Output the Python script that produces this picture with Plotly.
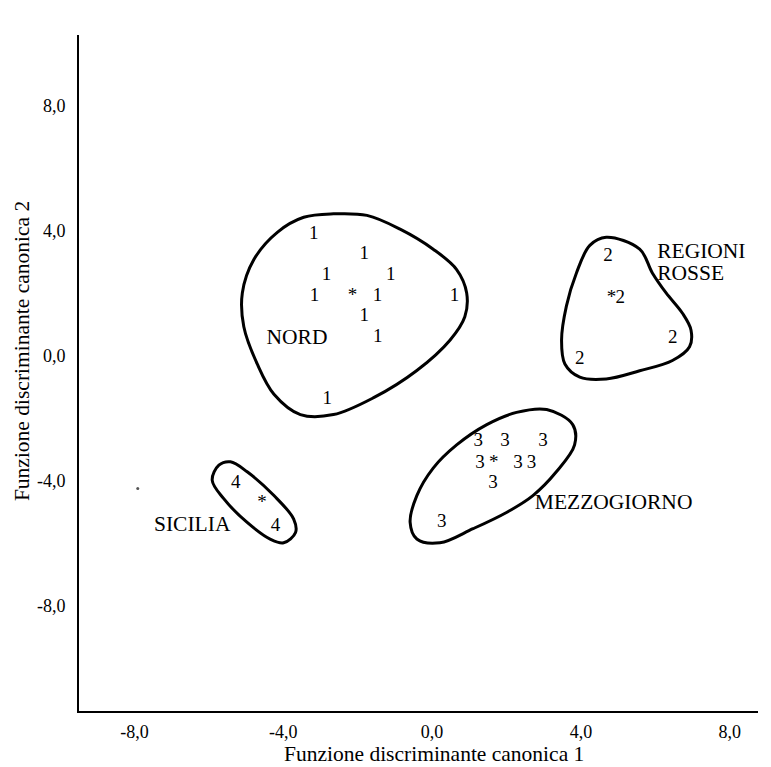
import plotly.graph_objects as go

# ---- data (canonical discriminant scores) ----
g1_x = [-3.18, -1.82, -2.84, -1.11, -3.16, -1.47, 0.60, -1.82, -1.46, -2.82]
g1_y = [3.89, 3.25, 2.57, 2.57, 1.90, 1.90, 1.90, 1.25, 0.58, -1.39]
g2_x = [4.73, 5.06, 6.47, 3.97]
g2_y = [3.19, 1.84, 0.55, -0.10]
g3_x = [1.24, 1.96, 2.98, 1.29, 2.31, 2.67, 1.64, 0.26]
g3_y = [-2.74, -2.74, -2.74, -3.44, -3.44, -3.44, -4.09, -5.33]
g4_x = [-5.28, -4.21]
g4_y = [-4.09, -5.44]

centroid_x = [-2.14, 4.82, 1.66, -4.57]
centroid_y = [1.92, 1.84, -3.44, -4.72]

# group outlines
nord_x = [-2.65, -1.75, -0.86, 0.03, 0.66, 0.93, 0.88, 0.48, -0.41, -1.57, -2.65, -3.54,
          -4.25, -4.70, -5.06, -5.10, -4.79, -4.16, -3.45]
nord_y = [4.54, 4.49, 4.05, 3.41, 2.76, 2.01, 1.25, 0.50, -0.47, -1.34, -1.88, -1.88,
          -1.23, -0.26, 0.93, 2.01, 3.08, 3.95, 4.43]
rosse_x = [4.68, 5.58, 5.92, 6.29, 6.73, 6.96, 6.92, 6.46, 5.58, 4.68, 3.97, 3.57, 3.48,
           3.61, 3.88, 4.24]
rosse_y = [3.79, 3.41, 2.65, 2.01, 1.36, 0.82, 0.29, -0.15, -0.48, -0.74, -0.68, -0.26,
           0.50, 1.59, 2.65, 3.53]
mezzo_x = [3.08, 3.78, 3.83, 3.34, 2.71, 2.00, 1.10, 0.21, -0.41, -0.59, -0.41, 0.03,
           0.66, 1.47, 2.27]
mezzo_y = [-1.72, -2.20, -2.85, -3.71, -4.47, -5.01, -5.53, -5.98, -5.86, -5.33, -4.47,
           -3.59, -2.85, -2.20, -1.81]
sic_x = [-5.73, -5.42, -4.97, -4.25, -3.72, -3.67, -3.99, -4.34, -4.97, -5.60, -5.91]
sic_y = [-3.50, -3.39, -3.71, -4.47, -5.22, -5.65, -5.98, -5.87, -5.33, -4.57, -3.98]

labels = ["NORD", "REGIONI", "ROSSE", "MEZZOGIORNO", "SICILIA"]
label_x = [-3.63, 6.05, 6.05, 2.76, -5.42]
label_y = [0.55, 3.31, 2.59, -4.72, -5.44]
label_pos = ["middle center", "middle right", "middle right", "middle right", "middle left"]

tick_vals = [-8, -4, 0, 4, 8]
tick_text = ["-8,0", "-4,0", "0,0", "4,0", "8,0"]

x_title = "Funzione discriminante canonica 1"
y_title = "Funzione discriminante canonica 2"

speck_x = [-7.91]
speck_y = [-4.24]

FONT = "Liberation Serif"

fig = go.Figure()

for ox, oy in [(nord_x, nord_y), (rosse_x, rosse_y), (mezzo_x, mezzo_y), (sic_x, sic_y)]:
    fig.add_trace(go.Scatter(
        x=ox + ox[:1], y=oy + oy[:1], mode="lines",
        line=dict(color="black", width=3, shape="spline", smoothing=1.0),
        hoverinfo="skip", showlegend=False))

for gx, gy, lab in [(g1_x, g1_y, "1"), (g2_x, g2_y, "2"), (g3_x, g3_y, "3"), (g4_x, g4_y, "4")]:
    fig.add_trace(go.Scatter(
        x=gx, y=gy, mode="text", text=[lab] * len(gx),
        textfont=dict(family=FONT, size=19, color="black"),
        showlegend=False))

fig.add_trace(go.Scatter(
    x=centroid_x, y=centroid_y, mode="text", text=["*"] * len(centroid_x),
    textfont=dict(family=FONT, size=19, color="black"), showlegend=False))

fig.add_trace(go.Scatter(
    x=label_x, y=label_y, mode="text", text=labels, textposition=label_pos,
    textfont=dict(family=FONT, size=21.5, color="black"), showlegend=False))

fig.add_trace(go.Scatter(
    x=speck_x, y=speck_y, mode="markers",
    marker=dict(color="#555555", size=3), hoverinfo="skip", showlegend=False))

axis_common = dict(
    showgrid=False, zeroline=False, showline=True, linecolor="black", linewidth=2,
    ticks="outside", tickcolor="rgba(0,0,0,0)",
    tickvals=tick_vals, ticktext=tick_text,
    tickfont=dict(family=FONT, size=18, color="black"),
    automargin=False,
)

# the page adds an 8 px body margin, so the figure is sized to sit inside the window
fig.update_layout(
    width=763, height=759,
    margin=dict(l=71, r=13, t=27, b=56),
    paper_bgcolor="white", plot_bgcolor="white",
    xaxis=dict(range=[-9.49, 8.76], ticklen=3, **axis_common),
    yaxis=dict(range=[-11.36, 10.26], ticklen=8, **axis_common),
    showlegend=False,
    annotations=[
        dict(text=x_title, xref="x", x=0.05, yref="paper", y=0, yanchor="middle",
             yshift=-43, showarrow=False, font=dict(family=FONT, size=21.5, color="black")),
        dict(text=y_title, xref="paper", x=0, xanchor="center", xshift=-57,
             yref="y", y=0.15, yanchor="middle", textangle=-90, showarrow=False,
             font=dict(family=FONT, size=21.5, color="black")),
    ],
)

fig.write_html("out.html")
